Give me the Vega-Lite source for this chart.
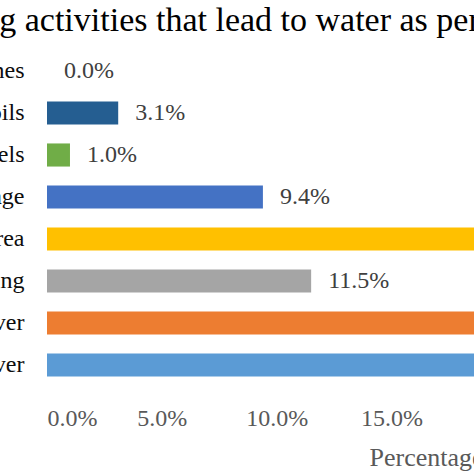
{
  "$schema": "https://vega.github.io/schema/vega-lite/v6.json",
  "autosize": {"type": "none"},
  "width": 427,
  "height": 336,
  "padding": {"left": 47, "top": 50, "right": 0, "bottom": 88},
  "background": "white",
  "title": {
    "text": "Farming activities that lead to water as perceived pollution",
    "anchor": "start",
    "frame": "group",
    "dx": -146,
    "offset": -15,
    "baseline": "alphabetic",
    "font": "Liberation Serif",
    "fontSize": 34,
    "fontWeight": "normal",
    "color": "#000000"
  },
  "config": {
    "view": {"stroke": null},
    "font": "Liberation Serif"
  },
  "data": {
    "values": [
      {"activity": "Pit latrines", "pct": 0.0, "label": "0.0%"},
      {"activity": "Engine oils", "pct": 3.1, "label": "3.1%"},
      {"activity": "Fishing vessels", "pct": 1.0, "label": "1.0%"},
      {"activity": "Discharge of sewage", "pct": 9.4, "label": "9.4%"},
      {"activity": "Farming in catchment area", "pct": 25.0, "label": "25.0%"},
      {"activity": "Car washing", "pct": 11.5, "label": "11.5%"},
      {"activity": "Bathing in the river", "pct": 24.0, "label": "24.0%"},
      {"activity": "Washing clothes in the river", "pct": 26.0, "label": "26.0%"}
    ]
  },
  "encoding": {
    "y": {
      "field": "activity",
      "type": "nominal",
      "sort": null,
      "scale": {"paddingInner": 0.45, "paddingOuter": 0.225},
      "axis": {
        "title": null,
        "domain": false,
        "ticks": false,
        "tickSize": 0,
        "labelPadding": 23,
        "labelFont": "Liberation Serif",
        "labelFontSize": 24,
        "labelColor": "#0d0d0d",
        "labelLimit": 600
      }
    },
    "x": {
      "field": "pct",
      "type": "quantitative",
      "scale": {"domain": [0, 33], "range": [0, 758], "nice": false},
      "axis": {
        "title": "Percentage",
        "values": [0, 5, 10, 15, 20, 25, 30],
        "labelExpr": "format(datum.value, '.1f') + '%'",
        "grid": false,
        "domain": false,
        "ticks": false,
        "tickSize": 0,
        "labelPadding": 20,
        "labelFont": "Liberation Serif",
        "labelFontSize": 24,
        "labelColor": "#595959",
        "titleFont": "Liberation Serif",
        "titleFontSize": 26,
        "titleFontWeight": "normal",
        "titleColor": "#595959",
        "titlePadding": 14
      }
    }
  },
  "layer": [
    {
      "mark": {"type": "bar"},
      "encoding": {
        "color": {
          "field": "activity",
          "type": "nominal",
          "legend": null,
          "scale": {
            "domain": ["Pit latrines", "Engine oils", "Fishing vessels", "Discharge of sewage", "Farming in catchment area", "Car washing", "Bathing in the river", "Washing clothes in the river"],
            "range": ["#9E480E", "#255E91", "#70AD47", "#4472C4", "#FFC000", "#A5A5A5", "#ED7D31", "#5B9BD5"]
          }
        }
      }
    },
    {
      "mark": {"type": "text", "align": "left", "baseline": "middle", "dx": 17, "font": "Liberation Serif", "fontSize": 24, "color": "#404040"},
      "encoding": {"text": {"field": "label"}}
    }
  ]
}
